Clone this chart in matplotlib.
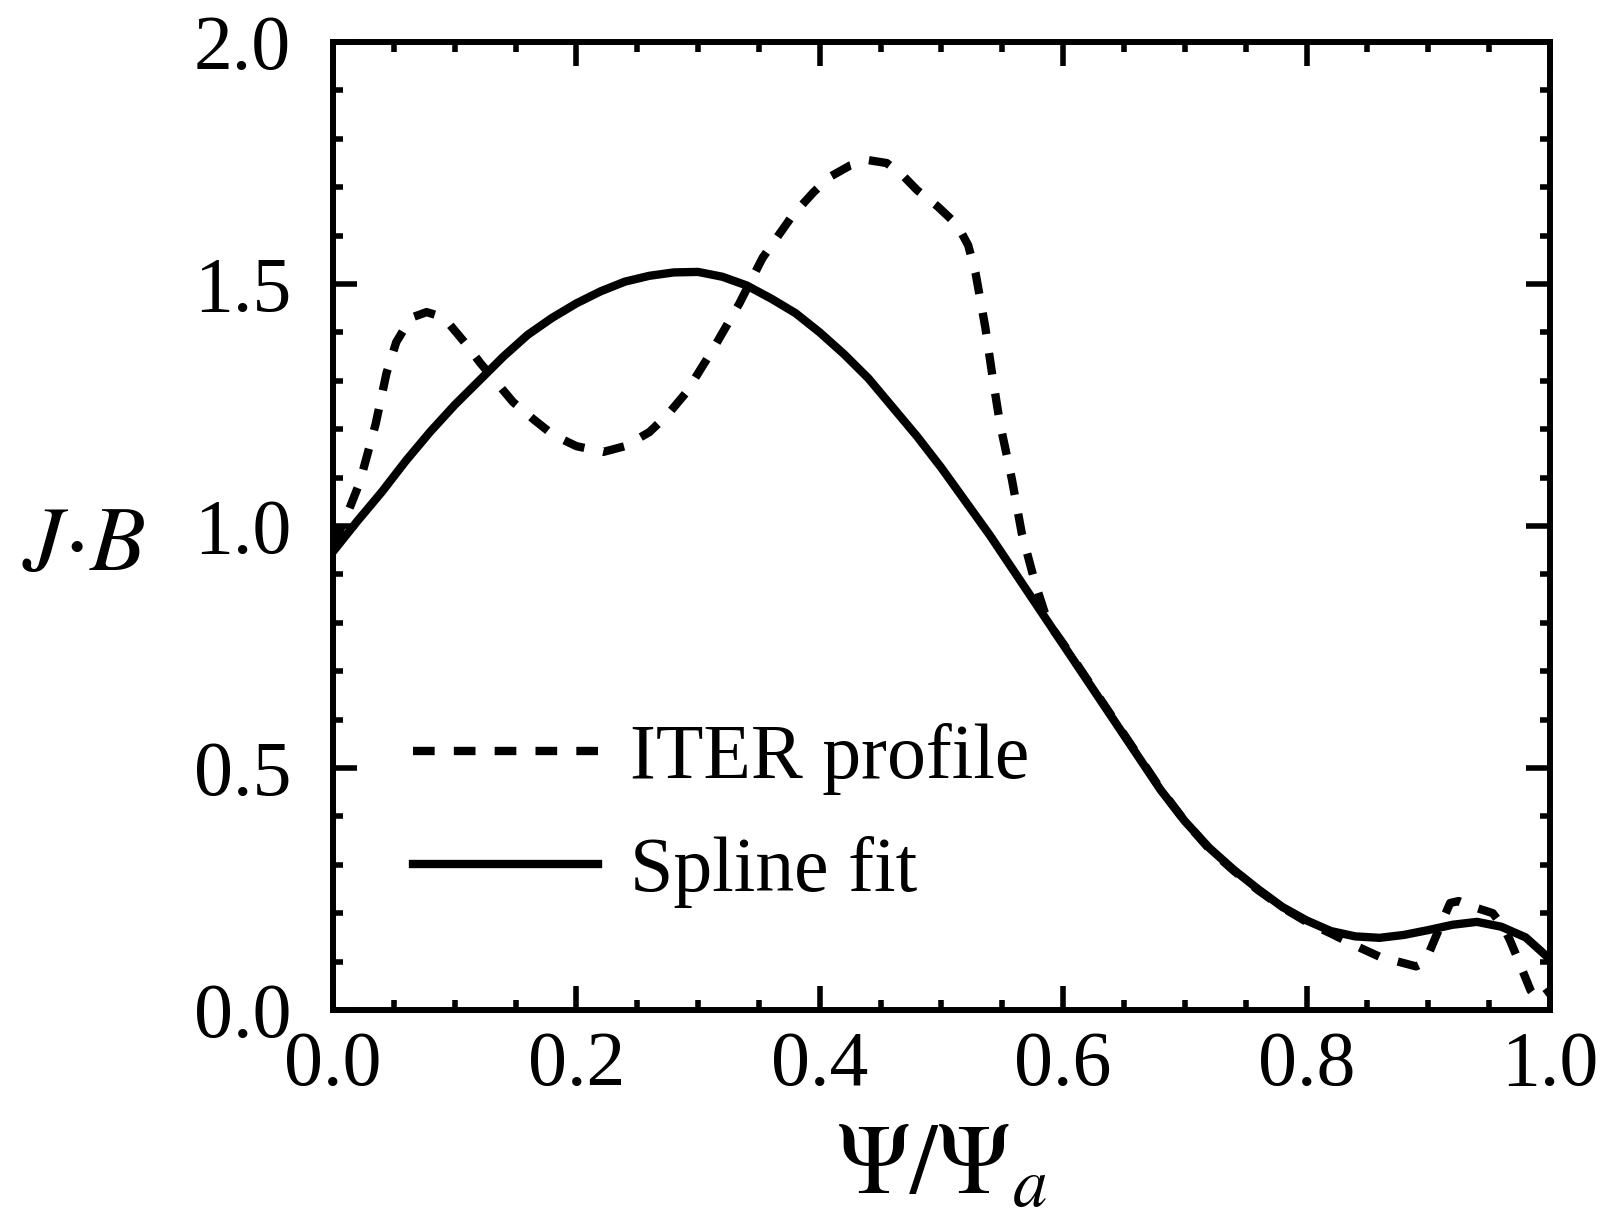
import matplotlib
matplotlib.use("Agg")
import matplotlib.pyplot as plt
from matplotlib.ticker import MultipleLocator

plt.rcParams['font.family'] = ['Liberation Serif', 'DejaVu Serif']
plt.rcParams['mathtext.fontset'] = 'stix'

# ITER profile (dashed)
iter_x = [0.0, 0.011, 0.022, 0.035, 0.044, 0.052, 0.058, 0.066, 0.077, 0.086,
          0.094, 0.108, 0.121, 0.135, 0.148, 0.165, 0.181, 0.20, 0.222, 0.24,
          0.26, 0.275, 0.29, 0.312, 0.334, 0.353, 0.378, 0.395, 0.408, 0.425,
          0.44, 0.455, 0.468, 0.48, 0.497, 0.513, 0.522, 0.528, 0.536, 0.542,
          0.548, 0.558, 0.566, 0.577, 0.585, 0.592, 0.60, 0.62, 0.64, 0.66,
          0.68, 0.70, 0.72, 0.74, 0.76, 0.78, 0.80, 0.82, 0.84, 0.86,
          0.875, 0.89, 0.896, 0.901, 0.912, 0.918, 0.925, 0.937, 0.953, 0.962,
          0.967, 0.974, 0.984, 0.99, 1.0]
iter_y = [0.96, 1.02, 1.09, 1.21, 1.316, 1.38, 1.405, 1.432, 1.442, 1.435,
          1.422, 1.38, 1.337, 1.295, 1.256, 1.22, 1.188, 1.165, 1.153, 1.165,
          1.194, 1.23, 1.275, 1.364, 1.46, 1.554, 1.643, 1.69, 1.721, 1.745,
          1.756, 1.75, 1.725, 1.694, 1.66, 1.622, 1.58, 1.523, 1.411, 1.308,
          1.213, 1.095, 0.985, 0.882, 0.82, 0.785, 0.757, 0.682, 0.607, 0.532,
          0.457, 0.39, 0.333, 0.288, 0.248, 0.212, 0.182, 0.158, 0.133, 0.11,
          0.1, 0.09, 0.097, 0.12, 0.186, 0.221, 0.225, 0.213, 0.2, 0.17,
          0.145, 0.103, 0.041, 0.021, 0.04]

# spline fit (solid)
fit_x = [0.0, 0.02, 0.04, 0.06, 0.08, 0.10, 0.12, 0.14, 0.16, 0.18,
         0.20, 0.22, 0.24, 0.26, 0.28, 0.30, 0.32, 0.34, 0.36, 0.38,
         0.40, 0.42, 0.44, 0.46, 0.48, 0.50, 0.52, 0.54, 0.56, 0.58,
         0.60, 0.62, 0.64, 0.66, 0.68, 0.70, 0.72, 0.74, 0.76, 0.78,
         0.80, 0.82, 0.84, 0.86, 0.88, 0.90, 0.92, 0.94, 0.96, 0.98, 1.0]
fit_y = [0.947, 1.01, 1.07, 1.135, 1.195, 1.25, 1.30, 1.35, 1.395, 1.43,
         1.46, 1.485, 1.505, 1.517, 1.524, 1.525, 1.515, 1.497, 1.47, 1.44,
         1.40, 1.355, 1.305, 1.245, 1.185, 1.12, 1.05, 0.98, 0.905, 0.83,
         0.755, 0.68, 0.605, 0.53, 0.455, 0.39, 0.335, 0.29, 0.25, 0.213,
         0.185, 0.163, 0.152, 0.149, 0.155, 0.165, 0.176, 0.182, 0.172, 0.15, 0.105]

fig = plt.figure(figsize=(16.14, 12.19), dpi=100)
ax = fig.add_axes([0.2063, 0.1715, 0.754, 0.794])

ax.plot(iter_x, iter_y, color='black', lw=6, linestyle=(0, (2.6, 2.3)),
        dash_capstyle='butt', label='ITER profile')
ax.plot(fit_x, fit_y, color='black', lw=6, label='Spline fit')

ax.set_xlim(0, 1)
ax.set_ylim(0, 2)
ax.xaxis.set_major_locator(MultipleLocator(0.2))
ax.xaxis.set_minor_locator(MultipleLocator(0.05))
ax.yaxis.set_major_locator(MultipleLocator(0.5))
ax.yaxis.set_minor_locator(MultipleLocator(0.1))
ax.xaxis.set_major_formatter(plt.FuncFormatter(lambda v, p: f"{v:.1f}"))
ax.yaxis.set_major_formatter(plt.FuncFormatter(lambda v, p: f"{v:.1f}"))

for s in ax.spines.values():
    s.set_linewidth(4.3)
ax.tick_params(which='both', direction='in', top=True, right=True, width=4, labelsize=56)
ax.tick_params(which='major', length=17)
ax.tick_params(which='minor', length=7.5)
ax.tick_params(axis='y', pad=30)
ax.tick_params(axis='x', pad=15)

ax.set_xlabel(r'$\Psi/\Psi_a$', fontsize=71, labelpad=16)
ax.set_ylabel(r'$J{\cdot}B$', fontsize=66, rotation=0, va='center', ha='center')
ax.yaxis.set_label_coords(-0.205, 0.478)

ax.legend(loc='center left', bbox_to_anchor=(0.066, 0.201), frameon=False,
          fontsize=56, handlelength=2.38, handletextpad=0.4, labelspacing=0.53,
          borderpad=0, borderaxespad=0)

fig.savefig('out.png', dpi=100)
